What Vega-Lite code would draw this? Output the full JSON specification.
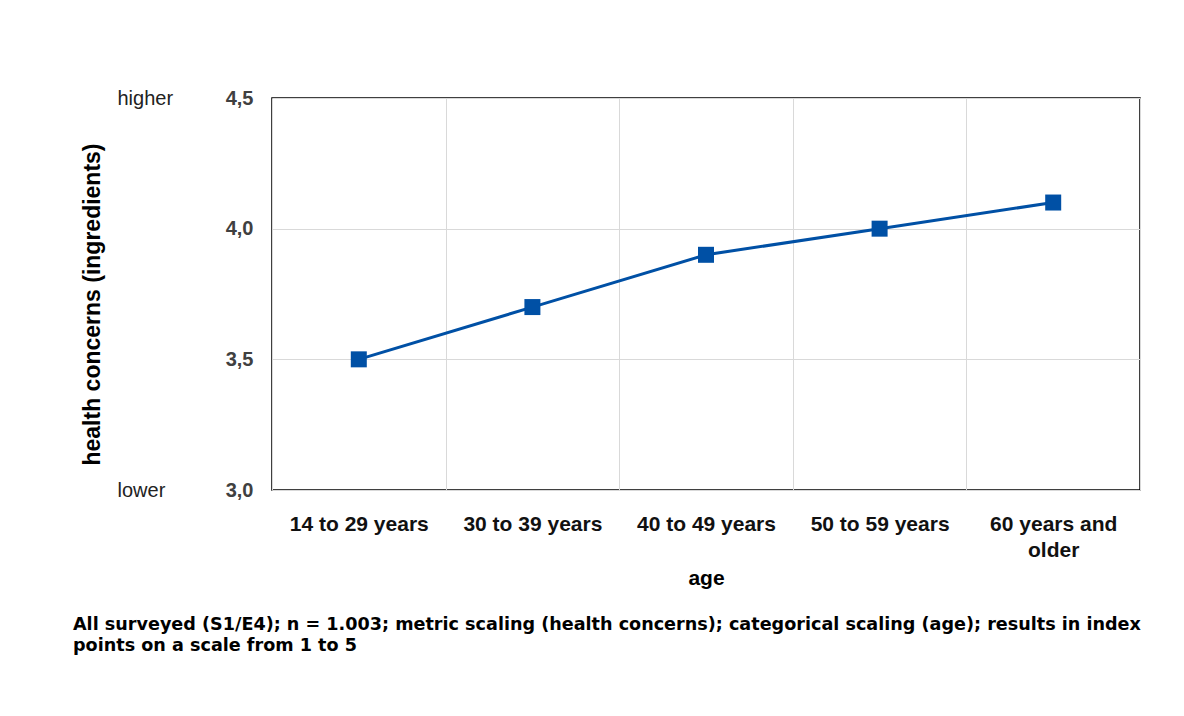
{
  "$schema": "https://vega.github.io/schema/vega-lite/v6.json",
  "width": 868,
  "height": 392,
  "autosize": {"type": "none"},
  "padding": {"left": 272, "top": 98, "right": 44, "bottom": 226},
  "background": "white",
  "config": {
    "font": "Liberation Sans",
    "view": {"stroke": "#000000", "strokeWidth": 1.5}
  },
  "title": {
    "text": ["All surveyed (S1/E4); n = 1.003; metric scaling (health concerns); categorical scaling (age); results in index", "points on a scale from 1 to 5"],
    "orient": "bottom",
    "anchor": "start",
    "frame": "group",
    "font": "DejaVu Sans",
    "fontWeight": "bold",
    "fontSize": 17.6,
    "lineHeight": 21,
    "color": "#000000",
    "dx": -199,
    "offset": 28
  },
  "data": {
    "values": [
      {"age": "14 to 29 years", "value": 3.5},
      {"age": "30 to 39 years", "value": 3.7},
      {"age": "40 to 49 years", "value": 3.9},
      {"age": "50 to 59 years", "value": 4.0},
      {"age": "60 years and older", "value": 4.1}
    ]
  },
  "resolve": {"axis": {"y": "independent"}},
  "layer": [
    {
      "mark": {"type": "line", "color": "#0050a5", "strokeWidth": 3},
      "encoding": {
        "x": {
          "field": "age", "type": "nominal", "sort": null,
          "scale": {"type": "band", "paddingInner": 0, "paddingOuter": 0},
          "axis": {
            "title": "age",
            "titleFontSize": 21, "titleFontWeight": "bold", "titleColor": "#000000",
            "titleBaseline": "alphabetic", "titleY": 94,
            "labelAngle": 0, "labelFontSize": 21, "labelFontWeight": "bold", "labelColor": "#111111",
            "labelPadding": 23, "labelLineHeight": 26,
            "labelExpr": "datum.value == '60 years and older' ? ['60 years and', 'older'] : datum.value",
            "ticks": false, "domain": false, "tickBand": "extent",
            "grid": true, "gridColor": "#d9d9d9", "gridWidth": 1
          }
        },
        "y": {
          "field": "value", "type": "quantitative",
          "scale": {"domain": [3, 4.5], "nice": false, "zero": false},
          "axis": {
            "title": "health concerns (ingredients)",
            "titleFontSize": 23, "titleFontWeight": "bold", "titleColor": "#000000",
            "titleAngle": -90, "titleBaseline": "alphabetic", "titleAlign": "center",
            "titleX": -173, "titleY": 206,
            "values": [3, 3.5, 4, 4.5],
            "format": ".1f",
            "labelExpr": "replace(datum.label, '.', ',')",
            "labelFontSize": 20, "labelFontWeight": "bold", "labelColor": "#404040",
            "labelPadding": 19,
            "ticks": false, "domain": false,
            "grid": true, "gridColor": "#d9d9d9", "gridWidth": 1
          }
        }
      }
    },
    {
      "mark": {"type": "square", "size": 256, "filled": true, "color": "#0050a5", "opacity": 1},
      "encoding": {
        "x": {"field": "age", "type": "nominal", "sort": null},
        "y": {"field": "value", "type": "quantitative", "axis": null}
      }
    },
    {
      "mark": {"type": "point", "opacity": 0},
      "encoding": {
        "x": {"field": "age", "type": "nominal", "sort": null},
        "y": {
          "field": "value", "type": "quantitative",
          "axis": {
            "orient": "left",
            "title": null,
            "values": [3, 4.5],
            "labelExpr": "datum.value == 4.5 ? 'higher' : 'lower'",
            "labelAlign": "left",
            "labelFontSize": 20, "labelFontWeight": "normal", "labelColor": "#222222",
            "labelPadding": 0, "offset": 155,
            "ticks": false, "domain": false, "grid": false
          }
        }
      }
    }
  ]
}
